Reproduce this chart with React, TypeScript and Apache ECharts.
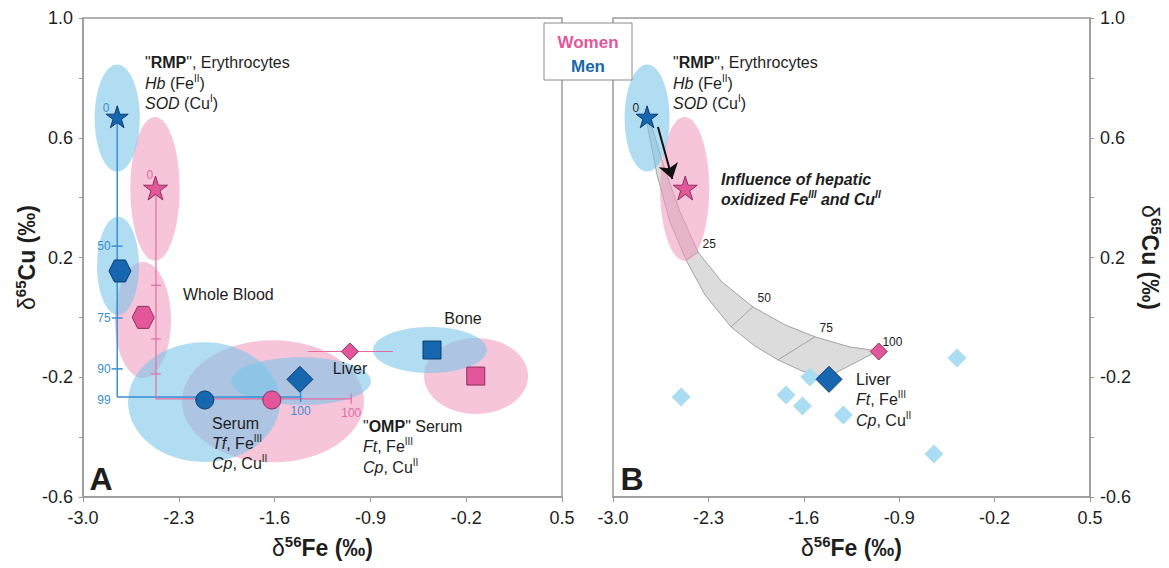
import React, { useEffect, useRef } from 'react';
import * as echarts from 'echarts';

const FONT = "'Liberation Sans', Arial, Helvetica, sans-serif";
const TXT = '#1e1e1e';
const AXIS = '#9a9a9a';
const BLUE = '#1766B0';
const BLUE_EDGE = '#0C3C6E';
const PINK = '#E2579A';
const PINK_EDGE = '#8E2F5E';
const BLUE_LINE = '#3A8FD0';
const PINK_LINE = '#E46CA2';
const BLUE_FILL = 'rgba(120,197,232,0.58)';
const PINK_FILL = 'rgba(238,150,188,0.55)';
const LIGHT_BLUE = '#AADCF2';
const STAR = 'path://M50 0 L61.23 34.55 L97.55 34.55 L68.17 55.9 L79.39 90.45 L50 69.1 L20.61 90.45 L31.83 55.9 L2.45 34.55 L38.77 34.55 Z';
const HEX = 'path://M100 50 L75 93.3 L25 93.3 L0 50 L25 6.7 L75 6.7 Z';

// ---- axes ----
const feTicks = [-3.0, -2.3, -1.6, -0.9, -0.2, 0.5];
const cuLabels = [-0.6, -0.2, 0.2, 0.6, 1.0];
const cuTicks = [-0.6, -0.4, -0.2, 0.0, 0.2, 0.4, 0.6, 0.8, 1.0];

// ---- group means (δ56Fe, δ65Cu) ----
const groups = ['RMP', 'Whole Blood', 'Serum', 'Liver', 'Bone'];
const menFe = [-2.75, -2.73, -2.11, -1.415, -0.45];
const menCu = [0.67, 0.155, -0.276, -0.207, -0.109];
const womenFe = [-2.47, -2.56, -1.62, -1.05, -0.13];
const womenCu = [0.432, 0.0, -0.276, -0.114, -0.196];
const womenLiverFeRange = [-1.356, -0.735];

// ---- ellipses [Fe, Cu, halfWidthFe, halfHeightCu] ----
const menEllipses = [
  [-2.75, 0.666, 0.165, 0.179],
  [-2.744, 0.172, 0.153, 0.164],
  [-2.116, -0.283, 0.555, 0.2],
  [-1.407, -0.213, 0.511, 0.08],
  [-0.465, -0.109, 0.416, 0.077],
];
const womenEllipses = [
  [-2.474, 0.429, 0.18, 0.24],
  [-2.562, -0.009, 0.205, 0.194],
  [-1.612, -0.28, 0.665, 0.204],
  [-0.128, -0.196, 0.38, 0.127],
];

// ---- panel A mixing lines ----
const menMixPath = [[-2.75, 0.67], [-2.75, -0.266], [-1.41, -0.266]];
const womenMixPath = [[-2.467, 0.432], [-2.467, -0.272], [-1.04, -0.272]];
const menMixTicks = [[-2.75, 0.238, '50'], [-2.75, -0.002, '75'], [-2.75, -0.172, '90']];
const womenMixTicks = [[-2.467, 0.107], [-2.467, -0.072], [-2.467, -0.189]];
const menMixStart = [[-2.75, 0.67, '0']];
const womenMixStart = [[-2.467, 0.432, '0']];
const menMixCorner = [[-2.75, -0.266, '99']];
const menMixEnd = [[-1.41, -0.266, '100']];
const womenMixEnd = [[-1.04, -0.272, '100']];

// ---- panel B ----
const liverFe = [-2.5, -1.555, -1.73, -1.61, -1.31, -0.476, -0.645];
const liverCu = [-0.266, -0.199, -0.259, -0.296, -0.326, -0.136, -0.456];
const bandUpper = [
  [-2.729, 0.656], [-2.618, 0.492], [-2.508, 0.352], [-2.376, 0.218], [-2.2, 0.118],
  [-1.973, 0.035], [-1.738, -0.025], [-1.518, -0.065], [-1.261, -0.099], [-1.056, -0.112],
];
const bandLower = [
  [-2.751, 0.649], [-2.677, 0.476], [-2.582, 0.319], [-2.464, 0.192], [-2.325, 0.075],
  [-2.134, -0.032], [-1.958, -0.096], [-1.789, -0.142], [-1.613, -0.179], [-1.437, -0.202],
];
const bandPct = ['25', '50', '75', '100'];
const bandPctIdx = [3, 5, 7, 9];
const arrowFrom = [-2.67, 0.636];
const arrowTo = [-2.565, 0.462];

const groupSymbols = [STAR, HEX, 'circle', 'diamond', 'rect'];
const menSizes = [22, 22, 18, 26, 18];
const womenSizes = [24, 22, 18, 17, 18];

const nameRich = {
  d: { fontSize: 23, fontFamily: FONT, color: TXT, lineHeight: 28 },
  s: { fontSize: 15, fontWeight: 'bold', fontFamily: FONT, color: TXT, lineHeight: 15, verticalAlign: 'top' },
  b: { fontSize: 23, fontWeight: 'bold', fontFamily: FONT, color: TXT, lineHeight: 28 },
};

const LH = 20.5;
const textRich = {
  b: { fontWeight: 'bold', fontSize: 16, fontFamily: FONT, fill: TXT, lineHeight: LH },
  i: { fontStyle: 'italic', fontSize: 16, fontFamily: FONT, fill: TXT, lineHeight: LH },
  bi: { fontStyle: 'italic', fontWeight: 'bold', fontSize: 16, fontFamily: FONT, fill: TXT, lineHeight: LH },
  s: { fontSize: 10, fontFamily: FONT, fill: TXT, lineHeight: 11, verticalAlign: 'top' },
  bs: { fontStyle: 'italic', fontWeight: 'bold', fontSize: 10, fontFamily: FONT, fill: TXT, lineHeight: 11, verticalAlign: 'top' },
};

const gText = (x: number, y: number, text: string, extra: any = {}) => ({
  type: 'text',
  x,
  y,
  z: 50,
  style: {
    text,
    fill: TXT,
    fontSize: 16,
    fontFamily: FONT,
    lineHeight: LH,
    align: 'left',
    verticalAlign: 'top',
    rich: textRich,
    ...extra,
  },
});

const xAxisFor = (gi: number) => ({
  type: 'value',
  gridIndex: gi,
  min: -3,
  max: 0.5,
  axisLine: { show: true, onZero: false, lineStyle: { color: AXIS, width: 1.5 } },
  axisTick: { show: true, customValues: feTicks, length: 5, lineStyle: { color: AXIS } },
  axisLabel: {
    customValues: feTicks,
    formatter: (v: number) => v.toFixed(1),
    fontSize: 18,
    color: TXT,
    fontFamily: FONT,
    margin: 12,
  },
  splitLine: { show: false },
  name: '{d|δ}{s|56}{b|Fe (‰)}',
  nameLocation: 'middle',
  nameGap: 37,
  nameTextStyle: { rich: nameRich },
});

const yAxisFor = (gi: number, pos: 'left' | 'right') => ({
  type: 'value',
  gridIndex: gi,
  position: pos,
  min: -0.6,
  max: 1.0,
  axisLine: { show: true, onZero: false, lineStyle: { color: AXIS, width: 1.5 } },
  axisTick: { show: true, customValues: cuTicks, length: 4, lineStyle: { color: AXIS } },
  axisLabel: {
    customValues: cuLabels,
    formatter: (v: number) => v.toFixed(1),
    fontSize: 18,
    color: TXT,
    fontFamily: FONT,
    margin: 10,
  },
  splitLine: { show: false },
  name: '{d|δ}{s|65}{b|Cu (‰)}',
  nameLocation: 'middle',
  nameRotate: pos === 'left' ? 90 : -90,
  nameGap: pos === 'left' ? 36 : 46,
  nameTextStyle: { rich: nameRich },
});

const ellipseSeries = (gi: number, data: number[][], fill: string) => ({
  type: 'custom',
  xAxisIndex: gi,
  yAxisIndex: gi,
  z: 1,
  silent: true,
  encode: { x: 0, y: 1 },
  data,
  renderItem: (_p: any, api: any) => {
    const c = api.coord([api.value(0), api.value(1)]);
    const s = api.size([api.value(2), api.value(3)]);
    return {
      type: 'ellipse',
      shape: { cx: c[0], cy: c[1], rx: s[0], ry: s[1] },
      style: { fill, stroke: 'none' },
    };
  },
});

const lineSeries = (gi: number, data: any[], color: string, width: number) => ({
  type: 'line',
  xAxisIndex: gi,
  yAxisIndex: gi,
  z: 2,
  silent: true,
  symbol: 'none',
  data,
  lineStyle: { color, width },
});

const labelSeries = (gi: number, data: any[], color: string, label: any, symbol: any = 'circle', symbolSize: any = 1) => ({
  type: 'scatter',
  xAxisIndex: gi,
  yAxisIndex: gi,
  z: 4,
  silent: true,
  symbol,
  symbolSize,
  itemStyle: { color: symbol === 'circle' ? 'rgba(0,0,0,0)' : color, opacity: 1 },
  data,
  label: {
    show: true,
    formatter: (p: any) => p.value[2] ?? '',
    color,
    fontSize: 12,
    fontFamily: FONT,
    ...label,
  },
});

const markerSeries = (gi: number, fe: number[], cu: number[], sizes: number[], color: string, edge: string, idx: number[]) => ({
  type: 'scatter',
  xAxisIndex: gi,
  yAxisIndex: gi,
  z: 3,
  silent: true,
  data: idx.map((i) => ({
    name: groups[i],
    value: [fe[i], cu[i]],
    symbol: groupSymbols[i],
    symbolSize: sizes[i],
  })),
  itemStyle: { color, borderColor: edge, borderWidth: 1, opacity: 1 },
});

const option: any = {
  animation: false,
  backgroundColor: '#ffffff',
  textStyle: { fontFamily: FONT },
  grid: [
    { left: 83, top: 18, width: 479, height: 479, show: true, borderColor: AXIS, borderWidth: 1.5, backgroundColor: 'transparent' },
    { left: 613, top: 18, width: 477, height: 479, show: true, borderColor: AXIS, borderWidth: 1.5, backgroundColor: 'transparent' },
  ],
  xAxis: [xAxisFor(0), xAxisFor(1)],
  yAxis: [yAxisFor(0, 'left'), yAxisFor(1, 'right')],
  series: [
    // ---------- panel B mixing band ----------
    {
      type: 'custom',
      xAxisIndex: 1,
      yAxisIndex: 1,
      z: 1,
      silent: true,
      encode: { x: 0, y: 1 },
      data: [bandUpper[0]],
      renderItem: (_p: any, api: any) => {
        const up = bandUpper.map((p) => api.coord(p));
        const lo = bandLower.map((p) => api.coord(p));
        const poly = up.concat(lo.slice().reverse());
        return {
          type: 'group',
          children: [
            { type: 'polygon', shape: { points: poly }, style: { fill: '#DCDCDC', stroke: '#A3A3A3', lineWidth: 1 } },
            ...bandPctIdx.slice(0, 3).map((i) => ({
              type: 'line',
              shape: { x1: up[i][0], y1: up[i][1], x2: lo[i][0], y2: lo[i][1] },
              style: { stroke: '#A3A3A3', lineWidth: 1 },
            })),
          ],
        };
      },
    },
    // ---------- ellipses ----------
    ellipseSeries(0, womenEllipses, PINK_FILL),
    ellipseSeries(0, menEllipses, BLUE_FILL),
    ellipseSeries(1, [womenEllipses[0]], PINK_FILL),
    ellipseSeries(1, [menEllipses[0]], BLUE_FILL),
    // ---------- panel A mixing lines ----------
    lineSeries(0, menMixPath, BLUE_LINE, 1.5),
    lineSeries(0, womenMixPath, PINK_LINE, 1.2),
    lineSeries(0, [[womenLiverFeRange[0], womenCu[3]], [womenLiverFeRange[1], womenCu[3]]], PINK_LINE, 1.2),
    labelSeries(0, menMixTicks, BLUE_LINE, { position: 'left', distance: 1 }, 'rect', [11, 1.5]),
    labelSeries(0, womenMixTicks, PINK_LINE, { show: false }, 'rect', [10, 1.2]),
    labelSeries(0, menMixEnd, BLUE_LINE, { position: 'bottom', distance: 3 }, 'rect', [1.5, 10]),
    labelSeries(0, womenMixEnd, PINK_LINE, { position: 'bottom', distance: 3 }, 'rect', [1.2, 10]),
    labelSeries(0, menMixStart, BLUE_LINE, { position: [-14, -14] }),
    labelSeries(0, womenMixStart, PINK_LINE, { position: [-9, -19] }),
    labelSeries(0, menMixCorner, BLUE_LINE, { position: 'left', distance: 6, offset: [0, 3] }),
    // ---------- markers ----------
    markerSeries(0, menFe, menCu, menSizes, BLUE, BLUE_EDGE, [0, 1, 2, 3, 4]),
    markerSeries(0, womenFe, womenCu, womenSizes, PINK, PINK_EDGE, [0, 1, 2, 3, 4]),
    {
      type: 'scatter',
      xAxisIndex: 1,
      yAxisIndex: 1,
      z: 2,
      silent: true,
      symbol: 'diamond',
      symbolSize: 19,
      itemStyle: { color: LIGHT_BLUE, opacity: 1 },
      data: liverFe.map((f, i) => [f, liverCu[i]]),
    },
    markerSeries(1, menFe, menCu, menSizes, BLUE, BLUE_EDGE, [0, 3]),
    markerSeries(1, womenFe, womenCu, womenSizes, PINK, PINK_EDGE, [0, 3]),
    labelSeries(1, menMixStart, TXT, { position: [-14, -14] }),
    labelSeries(
      1,
      bandPctIdx.map((i, k) => [bandUpper[i][0], bandUpper[i][1], bandPct[k]]),
      TXT,
      { position: [5, -14] }
    ),
    // arrow
    {
      type: 'line',
      xAxisIndex: 1,
      yAxisIndex: 1,
      z: 6,
      data: [],
      silent: true,
      markLine: {
        silent: true,
        symbol: ['none', 'arrow'],
        symbolSize: 15,
        label: { show: false },
        lineStyle: { color: '#111', width: 2, type: 'solid', opacity: 1 },
        itemStyle: { color: '#111' },
        data: [[{ coord: arrowFrom }, { coord: arrowTo }]],
      },
    },
  ],
  graphic: [
    // panel A annotations
    gText(145, 52.5, '"{b|RMP}", Erythrocytes\n{i|Hb} (Fe{s|II})\n{i|SOD} (Cu{s|I})'),
    gText(183, 294, 'Whole Blood', { verticalAlign: 'middle' }),
    gText(350, 368, 'Liver', { verticalAlign: 'middle', align: 'center' }),
    gText(463, 318, 'Bone', { verticalAlign: 'middle', align: 'center' }),
    gText(212, 413, 'Serum\n{i|Tf}, Fe{s|III}\n{i|Cp}, Cu{s|II}', { lineHeight: 20 }),
    gText(363, 416, '"{b|OMP}" Serum\n{i|Ft}, Fe{s|III}\n{i|Cp}, Cu{s|II}'),
    gText(101, 479, 'A', { fontSize: 32, fontWeight: 'bold', align: 'center', verticalAlign: 'middle', lineHeight: 34 }),
    // panel B annotations
    gText(673, 52.5, '"{b|RMP}", Erythrocytes\n{i|Hb} (Fe{s|II})\n{i|SOD} (Cu{s|I})'),
    gText(721, 169, '{bi|Influence of hepatic}\n{bi|oxidized Fe}{bs|III}{bi| and Cu}{bs|II}', { lineHeight: 20 }),
    gText(856, 369, 'Liver\n{i|Ft}, Fe{s|III}\n{i|Cp}, Cu{s|II}'),
    gText(632, 479, 'B', { fontSize: 32, fontWeight: 'bold', align: 'center', verticalAlign: 'middle', lineHeight: 34 }),
    // legend box
    {
      type: 'rect',
      z: 90,
      shape: { x: 544, y: 23, width: 88, height: 57 },
      style: { fill: '#ffffff', stroke: '#8a8a8a', lineWidth: 1 },
    },
    {
      type: 'text',
      z: 91,
      x: 588,
      y: 42,
      style: { text: 'Women', fill: PINK, fontSize: 17, fontWeight: 'bold', fontFamily: FONT, align: 'center', verticalAlign: 'middle' },
    },
    {
      type: 'text',
      z: 91,
      x: 588,
      y: 66,
      style: { text: 'Men', fill: BLUE, fontSize: 17, fontWeight: 'bold', fontFamily: FONT, align: 'center', verticalAlign: 'middle' },
    },
  ],
};

export default function App() {
  const ref = useRef<HTMLDivElement>(null);
  useEffect(() => {
    const chart = echarts.init(ref.current as HTMLDivElement, null, { renderer: 'svg' });
    chart.setOption(option);
    return () => chart.dispose();
  }, []);
  return (
    <div
      ref={ref}
      style={{ position: 'absolute', left: 0, top: 0, width: 1169, height: 568, background: '#fff' }}
    />
  );
}
